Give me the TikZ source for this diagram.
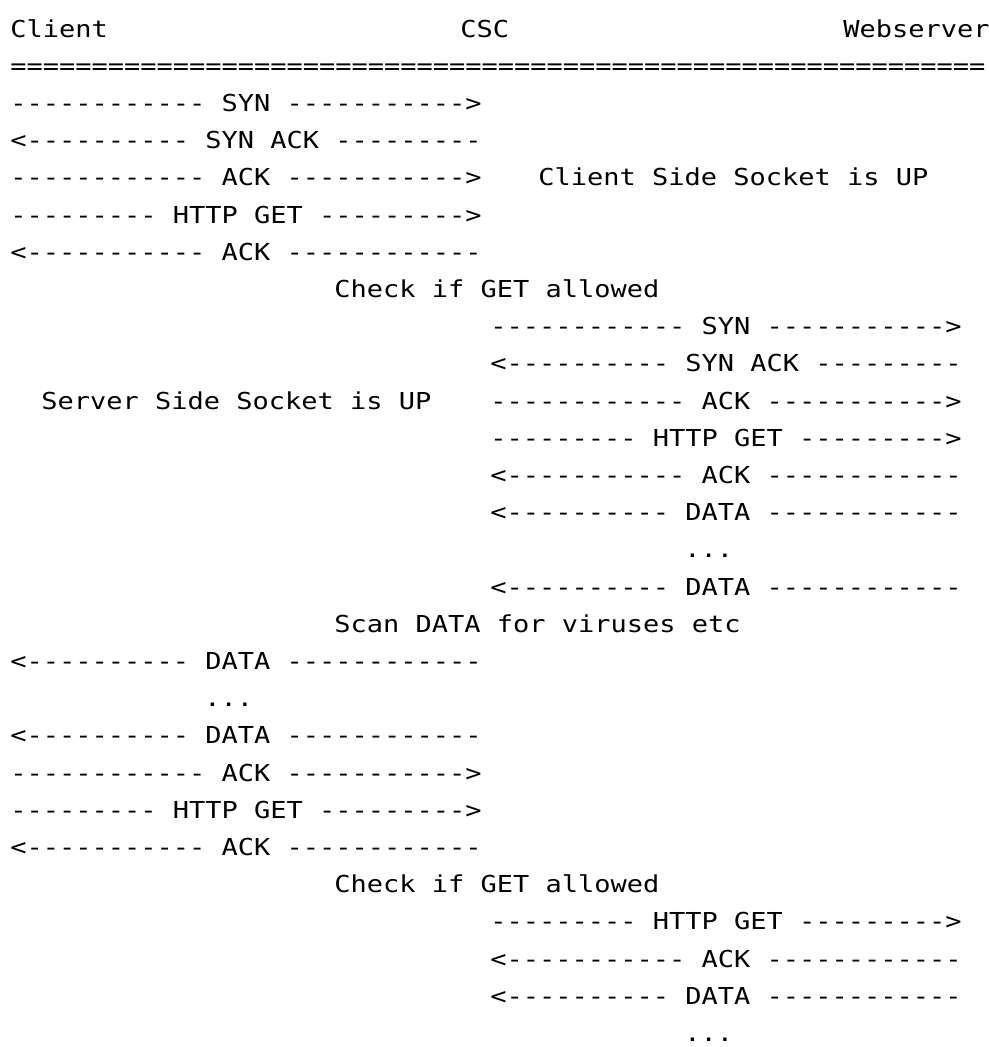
\documentclass[tikz,border=0pt]{standalone}
\usepackage{fontspec}
\setmonofont{DejaVu Sans Mono}[FakeStretch=1.157]
\usepackage{tikz}
\newcommand{\suite}{\smash{...}}

\begin{document}
\begin{tikzpicture}[x=0.75pt,y=-0.75pt]
% Une ligne de texte, posée sur sa ligne de base
\tikzstyle{ligne}=[anchor=base west,inner sep=0pt,
                   font=\ttfamily\fontsize{17.5}{17.5}\selectfont]
\useasboundingbox (0,0) rectangle (989,1047);

% En-tête : les trois acteurs
\node[ligne] (client) at (10,37) {Client};
\node[ligne] (csc) at (460,37) {CSC};
\node[ligne] (web) at (843,37) {Webserver};
\node[ligne] (trait) at (10,74.3) {============================================================};

% Les échanges, ligne par ligne (abscisse / numéro de ligne / texte)
\foreach \x/\r/\txt in {10/3/------------ SYN ----------->,
                        10/4/<---------- SYN ACK ---------,
                        10/5/------------ ACK ----------->,
                        538/5/Client Side Socket is UP,
                        10/6/--------- HTTP GET --------->,
                        10/7/<----------- ACK ------------,
                        334/8/Check if GET allowed,
                        490/9/------------ SYN ----------->,
                        490/10/<---------- SYN ACK ---------,
                        41/11/Server Side Socket is UP,
                        490/11/------------ ACK ----------->,
                        490/12/--------- HTTP GET --------->,
                        490/13/<----------- ACK ------------,
                        490/14/<---------- DATA ------------,
                        684/15/\suite,
                        490/16/<---------- DATA ------------,
                        334/17/Scan DATA for viruses etc,
                        10/18/<---------- DATA ------------,
                        204/19/\suite,
                        10/20/<---------- DATA ------------,
                        10/21/------------ ACK ----------->,
                        10/22/--------- HTTP GET --------->,
                        10/23/<----------- ACK ------------,
                        334/24/Check if GET allowed,
                        490/25/--------- HTTP GET --------->,
                        490/26/<----------- ACK ------------,
                        490/27/<---------- DATA ------------,
                        684/28/\suite}{
    \node[ligne] (m\r-\x) at (\x, {37+37.2*(\r-1)}) {\txt};
}
\end{tikzpicture}
\end{document}
